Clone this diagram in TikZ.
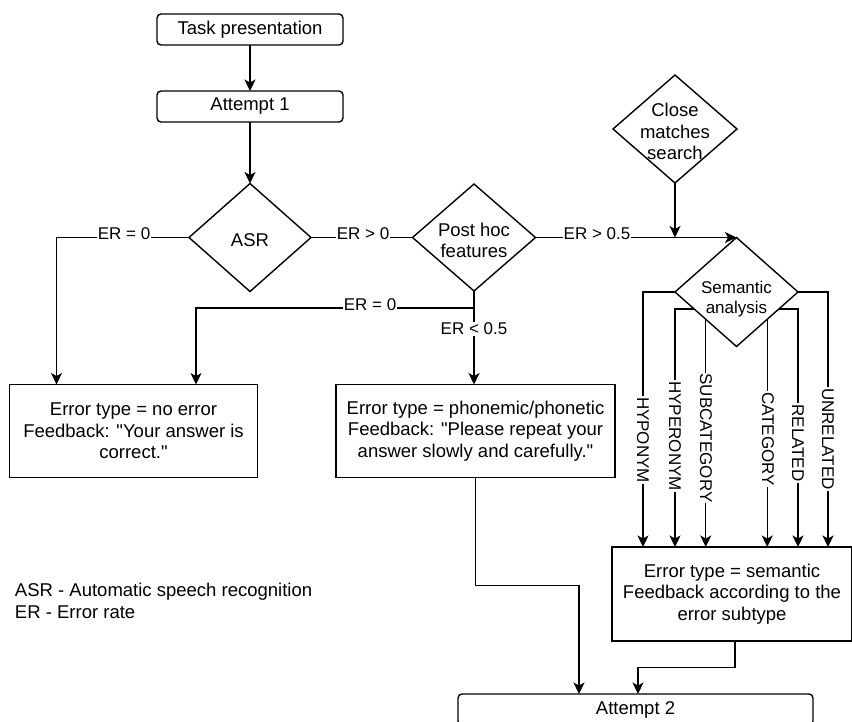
\documentclass[tikz,border=0pt]{standalone}
\usepackage{fontspec}
\setmainfont{Liberation Sans}
\usetikzlibrary{shapes.geometric,arrows.meta,calc}
\newcommand\fm{\fontsize{18.5}{21.7}\selectfont}
\newcommand\fsm{\fontsize{17}{19.5}\selectfont}
\newcommand\dq{\textquotedbl}
\begin{document}
\begin{tikzpicture}[x=1pt,y=-1pt, line width=1.4pt,
  every node/.style={outer sep=0pt, inner sep=0pt},
  rbox/.style={draw, rounded corners=4pt, minimum width=186pt, minimum height=31pt, font=\fm},
  tbox/.style={draw, align=center, font=\fm},
  dia/.style={draw, diamond, minimum width=123pt, minimum height=108pt},
  arr/.style={-{Stealth[length=11.5pt,width=11pt,inset=3pt]}},
  lab/.style={fill=white, inner sep=1pt, font=\fsm},
  vlab/.style={fill=white, inner sep=1pt, font=\fsm, rotate=-90}]
\useasboundingbox (0,0) rectangle (852,721);

% nodes
\node[rbox] (task) at (250,29.5) {Task presentation};
\node[rbox] (att1) at (250,106.5) {Attempt 1};
\node[dia, minimum width=122pt, label={[font=\fm,yshift=-2.5pt]center:ASR}] (asr) at (250,237.5) {};
\node[dia, minimum height=107pt, label={[font=\fm,align=center,yshift=-3pt]center:Post hoc\\features}] (post) at (474,237.5) {};
\node[dia, minimum width=124pt, label={[font=\fm,align=center,yshift=-2.5pt]center:Close\\matches\\search}] (close) at (675,129) {};
\node[dia, minimum height=109pt, label={[font=\fsm,align=center,yshift=-7pt]center:Semantic\\analysis}] (sem) at (736.5,292) {};
\node[tbox, minimum width=248pt, minimum height=93pt] (noerr) at (133.5,431) {Error type = no error\\Feedback: \dq Your answer is\\correct.\dq};
\node[tbox, minimum width=279pt, minimum height=93pt] (phon) at (475.5,431) {Error type = phonemic/phonetic\\Feedback: \dq Please repeat your\\answer slowly and carefully.\dq};
\node[tbox, minimum width=240pt, minimum height=94pt] (sembox) at (732,594) {Error type = semantic\\Feedback according to the\\error subtype};
\node[rbox, minimum width=355pt] (att2) at (635.5,709.5) {Attempt 2};
\node[font=\fm, align=left, anchor=west] (legend) at (15,601) {ASR - Automatic speech recognition\\ER - Error rate};

% connectors
\draw[arr] (task) -- (att1);
\draw[arr] (att1) -- (asr);
\draw[arr] (asr.west) -| ($(noerr.north west)+(47,0)$);
\node[lab] at (124,234) {ER = 0};
\draw (asr.east) -- (post.west);
\node[lab] at (363,234) {ER > 0};
\draw[arr] (post.east) -- (sem.north);
\node[lab] at (597,234) {ER > 0.5};
\coordinate (j1) at (close.south |- sem.north);
\draw[arr] (close.south) -- (j1);
\coordinate (j2) at ($(post.south)+(0,17)$);
\draw[arr] (post.south) -- (j2) -| ($(noerr.north west)+(186.5,0)$);
\draw[arr] (j2) -- (j2 |- phon.north);
\node[lab] at (370,305) {ER = 0};
\node[lab] at (474,329) {ER < 0.5};

\coordinate (k1) at ($(att2.north west)+(121,0)$);
\draw[arr] (phon.south) -- ++(0,108) -| (k1);
\coordinate (k2) at ($(att2.north west)+(180,0)$);
\draw[arr] ($(sembox.south)+(3,0)$) -- ++(0,26.5) -| (k2);

% semantic branches
\draw[arr] (sem.west) -| ($(sembox.north west)+(31,0)$);
\node[vlab] at (643,440) {HYPONYM};
\coordinate (s2) at ($(sem.west)!0.31!(sem.south)$);
\draw[arr] (s2) -| ($(sembox.north west)+(63,0)$);
\node[vlab] at (675,436) {HYPERONYM};
\coordinate (s3) at ($(sem.west)!0.5!(sem.south)$);
\draw[arr] (s3) -- (s3 |- sembox.north);
\node[vlab] at (706,438) {SUBCATEGORY};
\coordinate (s4) at ($(sem.east)!0.5!(sem.south)$);
\draw[arr] (s4) -- (s4 |- sembox.north);
\node[vlab] at (768,439) {CATEGORY};
\coordinate (s5) at ($(sem.east)!0.31!(sem.south)$);
\draw[arr] (s5) -| ($(sembox.north west)+(186,0)$);
\node[vlab] at (798,443) {RELATED};
\draw[arr] (sem.east) -| ($(sembox.north west)+(216,0)$);
\node[vlab] at (828,439) {UNRELATED};
\end{tikzpicture}
\end{document}
